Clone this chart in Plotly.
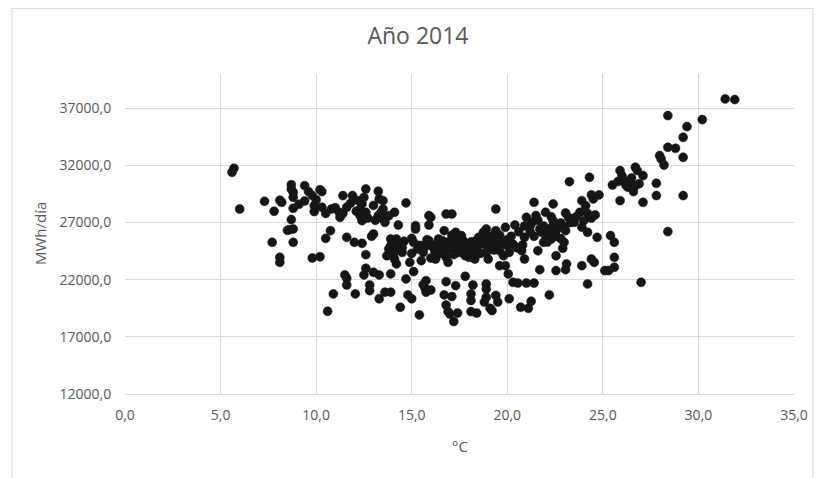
import plotly.graph_objects as go

# Temperatura media diaria (°C) y demanda (MWh/día), año 2014
temp_c = [
    5.6, 5.7, 6.0, 7.3, 7.8, 7.7, 8.1, 8.2, 8.1, 8.1, 8.5, 8.6, 8.7, 8.7, 8.8, 8.8, 8.7, 8.8, 8.8, 8.8,
    9.4, 9.4, 9.6, 9.8, 9.8, 10.2, 9.9, 9.9, 10.2, 10.3, 10.3, 10.5, 10.6, 10.75, 10.8, 10.9, 11.2, 11.25,
    11.4, 11.6, 11.6, 11.5, 11.6, 11.6, 11.9, 12.05, 12.0, 12.4, 12.2, 12.4, 12.3, 12.3, 12.4, 12.6, 12.6,
    12.6, 12.5, 12.6, 12.8, 12.8, 12.9, 13.0, 13.0, 13.25, 13.3, 13.5, 13.25, 13.4, 13.3, 13.3, 13.5, 13.5,
    13.6, 13.6, 13.9, 13.9, 13.7, 13.9, 13.9, 14.1, 14.1, 14.2, 13.9, 14.2, 14.3, 14.4, 14.5, 14.6, 14.7,
    14.7, 14.8, 15.0, 14.9, 15.0, 15.1, 15.1, 15.2, 15.2, 15.3, 15.5, 15.4, 15.5, 15.6, 15.7, 15.75, 15.75,
    15.8, 15.9, 15.9, 16.0, 16.0, 15.9, 16.2, 16.3, 16.25, 16.4, 16.6, 16.7, 16.7, 16.7, 16.8, 16.8, 16.8,
    16.9, 16.8, 16.9, 17.0, 17.1, 17.1, 17.2, 17.3, 17.3, 17.3, 17.3, 17.4, 17.4, 17.6, 17.7, 17.6, 17.8,
    17.8, 18.0, 18.1, 18.1, 18.1, 18.2, 18.25, 18.3, 18.25, 18.3, 18.4, 18.5, 18.7, 18.75, 18.8, 18.9, 18.9,
    18.9, 18.9, 18.9, 19.0, 19.1, 19.2, 19.2, 19.4, 19.4, 19.4, 19.4, 19.5, 19.5, 19.6, 19.6, 19.8, 19.9,
    19.9, 20.0, 20.1, 20.05, 20.1, 20.2, 20.3, 20.55, 20.4, 20.7, 20.8, 20.9, 20.75, 20.9, 21.0, 21.0, 21.1,
    21.25, 21.2, 21.3, 21.4, 21.4, 21.5, 21.6, 21.7, 21.7, 21.8, 21.9, 22.0, 22.1, 22.2, 22.3, 22.2, 22.4,
    22.4, 22.4, 22.5, 22.55, 22.55, 22.55, 22.8, 22.9, 22.97, 23.05, 23.05, 23.1, 23.05, 23.2, 23.25, 23.4,
    23.5, 23.8, 23.9, 23.9, 24.1, 24.0, 24.2, 24.2, 24.3, 24.4, 24.5, 24.4, 24.55, 24.6, 24.7, 24.8, 25.1,
    25.3, 25.4, 25.5, 25.6, 25.6, 25.6, 25.9, 25.9, 26.0, 26.1, 26.2, 26.4, 26.6, 26.7, 26.8, 26.7, 27.0,
    27.1, 27.1, 27.8, 27.8, 27.97, 28.05, 28.2, 28.4, 28.4, 28.4, 28.8, 29.2, 29.2, 29.2, 29.4, 30.2, 31.4,
    31.9,
    15.8, 16.1, 16.4, 16.6, 16.9, 17.0, 17.1, 17.2, 17.5, 17.5, 17.7, 17.9, 18.0, 18.1, 18.2, 18.4, 18.5,
    18.6, 18.8, 19.0, 19.1, 19.3, 19.3, 19.6, 19.7, 20.0, 20.3, 20.5, 14.0, 14.3, 14.5, 13.8, 14.1, 15.0,
    15.4, 15.6, 16.0, 16.5,
    10.5, 11.0, 11.8, 12.1, 12.7, 13.0, 13.8, 13.1, 12.5, 11.4, 10.0, 9.1,
    21.2, 21.6, 21.9, 22.0, 22.3, 22.6, 22.8, 23.0, 23.3, 23.6, 23.9, 24.2, 24.4, 22.1, 21.4, 20.6, 20.9,
    26.3, 26.9, 26.5, 25.8,
]

mwh_dia = [
    31400, 31750, 28190, 28860, 27990, 25270, 28950, 28770, 23960, 23520, 26320, 26380, 30320, 27260, 29210,
    29650, 29940, 28250, 25270, 26440,
    28890, 30230, 29710, 29360, 23900, 24010, 27960, 28480, 29880, 29710, 28340, 25620, 19240, 26290, 28190,
    20760, 27900, 27460,
    29360, 28340, 25710, 22420, 22130, 21540, 29360, 20760, 25270, 25180, 28920, 28630, 28190, 27610, 27170,
    29940, 27900, 24190, 22420, 23000, 21540, 21040, 25800, 26000, 22650, 29740, 29070, 28920, 27610, 27900,
    20330, 22420, 28190, 27320,
    27020, 20910, 20910, 22510, 24100, 24980, 24390, 27900, 23810, 23380, 25560, 25560, 26790, 19590, 24390,
    25360, 28720,
    22070, 20670, 20330, 23520, 25620, 25270, 22710, 26440, 26730, 24690, 24980, 18920, 23670, 21570, 21250,
    21920, 20910,
    24980, 25420, 27610, 27460, 21100, 26790, 24540, 25120, 23810, 25560, 25420, 26290, 24390, 20670, 21830,
    27750, 23960,
    23520, 19790, 19210, 19000, 27750, 20530, 18340, 21480, 26150, 25560, 24980, 24390, 19090, 25860, 25420,
    24390, 24100,
    22300, 23960, 20760, 20180, 19210, 21540, 25330, 24980, 24390, 23810, 19090, 25710, 25120, 26150, 20040,
    20470, 21190,
    21630, 26440, 24390, 23810, 19500, 19300, 25270, 28190, 26150, 26290, 20620, 20040, 24920, 24540, 23230,
    24100, 23230,
    26580, 24980, 24390, 22510, 20330, 25800, 21770, 21710, 26790, 19590, 25040, 25710, 24540, 23810, 27460,
    21710, 19500,
    20120, 26730, 27020, 21710, 28770, 27610, 24540, 22880, 26440, 26150, 25270, 27900, 26440, 25860, 25560,
    20670, 28630,
    27170, 26730, 26150, 25800, 24100, 22800, 26960, 24750, 25270, 26290, 22880, 23380, 27840, 27460, 30580,
    27320,
    27020, 27900, 23230, 28920, 28480, 27170, 21630, 26150, 30960, 29420, 29070, 23810, 23520, 27670, 25710,
    29420, 22800,
    22800, 25860, 30290, 23090, 23960, 25270, 28920, 31550, 31110, 30670, 30290, 30670, 29710, 31840, 31550,
    30230, 21770,
    31110, 28770, 29360, 30440, 32860, 32570, 32040, 26210, 36360, 33590, 33500, 34460, 32710, 29360, 35400,
    36010, 37820,
    37760,
    25500, 24900, 24700, 25000, 25300, 24700, 25900, 24200, 24800, 25600, 24500, 25000, 24400, 25300, 24000,
    24600, 25200,
    24300, 25600, 24900, 25800, 24600, 25500, 25900, 25200, 25500, 25100, 24800, 25300, 25000, 24800, 24700,
    24400, 24300,
    25000, 24400, 23900, 24300,
    27800, 28300, 28700, 28000, 27400, 28500, 27600, 27200, 29200, 27800, 29000, 28600,
    26200, 27200, 26700, 25900, 27500, 26400, 25600, 26600, 27000, 27500, 26600, 27800, 27400, 25300, 25800,
    26200, 26700,
    30100, 30400, 30900, 30600,
]

x_ticks = [0, 5, 10, 15, 20, 25, 30, 35]
y_ticks = [12000, 17000, 22000, 27000, 32000, 37000]

FONT = "Open Sans"
GRAY = "#595959"

fig = go.Figure(
    go.Scatter(
        x=temp_c,
        y=mwh_dia,
        mode="markers",
        marker=dict(size=9, color="#161616", line=dict(width=0.5, color="#161616")),
        showlegend=False,
        hoverinfo="x+y",
    )
)

fig.update_layout(
    width=833,
    height=478,
    margin=dict(l=117, r=47, t=66, b=92),
    paper_bgcolor="white",
    plot_bgcolor="white",
    separators=", ",
    title=dict(
        text="Año 2014",
        x=410 / 833,
        xref="container",
        y=1 - 28 / 478,
        yanchor="middle",
        xanchor="center",
        font=dict(family=FONT, size=23, color=GRAY),
    ),
    font=dict(family=FONT, color=GRAY),
    annotations=[
        dict(
            text="MWh/día", xref="paper", yref="paper", x=-0.127, y=0.5,
            showarrow=False, textangle=-90, xanchor="center", yanchor="middle",
            font=dict(family=FONT, size=15, color=GRAY),
        ),
        dict(
            text="°C", xref="paper", yref="paper", x=0.5, y=-0.1625,
            showarrow=False, xanchor="center", yanchor="middle",
            font=dict(family=FONT, size=15, color=GRAY),
        ),
    ],
    shapes=[
        dict(
            type="rect", xref="paper", yref="paper",
            x0=-0.1689, x1=1.0284, y0=-0.294, y1=1.2047,
            line=dict(color="#d9d9d9", width=1), fillcolor="rgba(0,0,0,0)", layer="below",
        )
    ],
)

fig.update_xaxes(
    range=[0, 35],
    tickvals=x_ticks,
    tickformat=".1f",
    showgrid=True,
    gridcolor="#d9d9d9",
    gridwidth=1,
    zeroline=False,
    showline=True,
    linecolor="#d9d9d9",
    linewidth=1,
    ticks="outside",
    ticklen=8,
    tickcolor="rgba(0,0,0,0)",
    tickfont=dict(family=FONT, size=14, color=GRAY),
)

fig.update_yaxes(
    range=[12000, 40000],
    tickvals=y_ticks,
    tickformat=".1f",
    showgrid=True,
    gridcolor="#d9d9d9",
    gridwidth=1,
    zeroline=False,
    showline=False,
    ticks="outside",
    ticklen=10,
    tickcolor="rgba(0,0,0,0)",
    tickfont=dict(family=FONT, size=14, color=GRAY),
)

fig.write_html("out.html")
